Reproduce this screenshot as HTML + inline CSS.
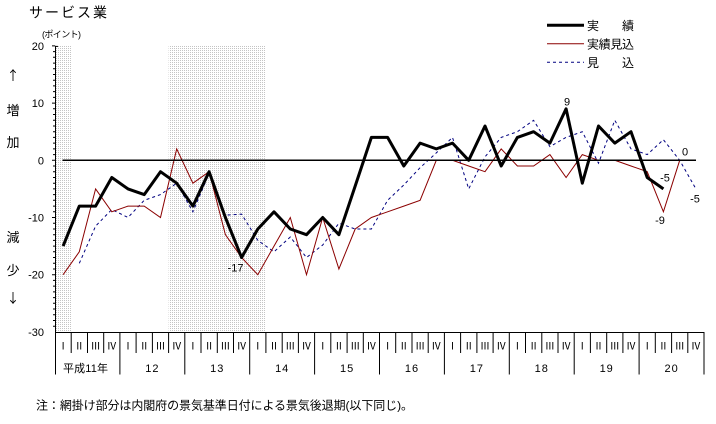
<!DOCTYPE html>
<html><head><meta charset="utf-8"><style>
html,body{margin:0;padding:0;background:#fff;}
svg{display:block;}
text{font-family:"Liberation Sans","Noto Sans CJK JP",sans-serif;fill:#000;}
.rn{font-family:"Noto Serif CJK SC","Liberation Serif",serif;font-size:10px;}
</style></head><body>
<svg width="716" height="424" viewBox="0 0 716 424" xmlns="http://www.w3.org/2000/svg">
<defs>
<pattern id="dots" width="2" height="2" patternUnits="userSpaceOnUse">
<rect width="2" height="2" fill="#fff"/>
<rect x="0" y="0" width="1" height="1" fill="#c4c4c4"/>
</pattern>
</defs>
<rect width="716" height="424" fill="#fff"/>

<!-- title -->
<text x="29" y="17.5" font-size="14" textLength="78">サービス業</text>
<text x="42" y="37.5" font-size="9" textLength="39">(ポイント)</text>

<!-- left side labels -->
<g font-size="13" text-anchor="middle">
<text x="13" y="80" style="font-family:'Noto Sans CJK JP',sans-serif">↑</text>
<text x="13" y="115">増</text>
<text x="13" y="147">加</text>
<text x="13" y="242">減</text>
<text x="13" y="275">少</text>
<text x="13" y="303" style="font-family:'Noto Sans CJK JP',sans-serif">↓</text>
</g>

<!-- shading -->
<rect x="55" y="45.9" width="16.2" height="286" fill="url(#dots)"/>
<rect x="168.6" y="45.9" width="97.3" height="286" fill="url(#dots)"/>

<!-- y axis -->
<g stroke="#000" stroke-width="1">
<line x1="55.5" y1="45.9" x2="55.5" y2="374.5"/>
<line x1="55" y1="46.4" x2="58" y2="46.4"/>
</g>
<g stroke="#000" stroke-width="1">
<path d="M52 45.9H55 M53 51.6H55 M53 57.3H55 M53 63.1H55 M53 68.8H55 M53 74.5H55 M53 80.2H55 M53 85.9H55 M53 91.6H55 M53 97.4H55
M52 103.1H55 M53 108.8H55 M53 114.5H55 M53 120.3H55 M53 126.0H55 M53 131.7H55 M53 137.4H55 M53 143.1H55 M53 148.9H55 M53 154.6H55
M52 160.3H55 M53 166.0H55 M53 171.7H55 M53 177.5H55 M53 183.2H55 M53 188.9H55 M53 194.6H55 M53 200.3H55 M53 206.1H55 M53 211.8H55
M52 217.5H55 M53 223.2H55 M53 229.0H55 M53 234.7H55 M53 240.4H55 M53 246.1H55 M53 251.8H55 M53 257.5H55 M53 263.3H55 M53 269.0H55
M52 274.7H55 M53 280.4H55 M53 286.1H55 M53 291.9H55 M53 297.6H55 M53 303.3H55 M53 309.0H55 M53 314.7H55 M53 320.5H55 M53 326.2H55"/>
</g>
<g font-size="11" text-anchor="end">
<text x="44" y="49.9">20</text>
<text x="44" y="107.1">10</text>
<text x="44" y="164.3">0</text>
<text x="44" y="221.5">-10</text>
<text x="44" y="278.7">-20</text>
<text x="44" y="335.9">-30</text>
</g>

<!-- x axis table -->
<g stroke="#000" stroke-width="1">
<line x1="55" y1="332.5" x2="704.5" y2="332.5"/>
<path d="M71.2 332V353 M87.5 332V353 M103.7 332V353
M136.1 332V353 M152.4 332V353 M168.6 332V353
M201.0 332V353 M217.3 332V353 M233.5 332V353
M265.9 332V353 M282.2 332V353 M298.4 332V353
M330.8 332V353 M347.1 332V353 M363.3 332V353
M395.7 332V353 M412.0 332V353 M428.2 332V353
M460.6 332V353 M476.9 332V353 M493.1 332V353
M525.5 332V353 M541.8 332V353 M558.0 332V353
M590.4 332V353 M606.7 332V353 M622.9 332V353
M655.3 332V353 M671.6 332V353 M687.8 332V353"/>
<path d="M119.9 332V374.5 M184.8 332V374.5 M249.7 332V374.5 M314.6 332V374.5 M379.5 332V374.5 M444.4 332V374.5 M509.3 332V374.5 M574.2 332V374.5 M639.1 332V374.5 M704.0 332V374.5"/>
</g>
<g class="rn" text-anchor="middle">
<text x="63.1" y="349.6">Ⅰ</text><text x="79.3" y="349.6">Ⅱ</text><text x="95.6" y="349.6">Ⅲ</text><text x="111.8" y="349.6">Ⅳ</text>
<text x="128.0" y="349.6">Ⅰ</text><text x="144.2" y="349.6">Ⅱ</text><text x="160.5" y="349.6">Ⅲ</text><text x="176.7" y="349.6">Ⅳ</text>
<text x="192.9" y="349.6">Ⅰ</text><text x="209.1" y="349.6">Ⅱ</text><text x="225.4" y="349.6">Ⅲ</text><text x="241.6" y="349.6">Ⅳ</text>
<text x="257.8" y="349.6">Ⅰ</text><text x="274.0" y="349.6">Ⅱ</text><text x="290.3" y="349.6">Ⅲ</text><text x="306.5" y="349.6">Ⅳ</text>
<text x="322.7" y="349.6">Ⅰ</text><text x="338.9" y="349.6">Ⅱ</text><text x="355.2" y="349.6">Ⅲ</text><text x="371.4" y="349.6">Ⅳ</text>
<text x="387.6" y="349.6">Ⅰ</text><text x="403.8" y="349.6">Ⅱ</text><text x="420.1" y="349.6">Ⅲ</text><text x="436.3" y="349.6">Ⅳ</text>
<text x="452.5" y="349.6">Ⅰ</text><text x="468.7" y="349.6">Ⅱ</text><text x="485.0" y="349.6">Ⅲ</text><text x="501.2" y="349.6">Ⅳ</text>
<text x="517.4" y="349.6">Ⅰ</text><text x="533.6" y="349.6">Ⅱ</text><text x="549.9" y="349.6">Ⅲ</text><text x="566.1" y="349.6">Ⅳ</text>
<text x="582.3" y="349.6">Ⅰ</text><text x="598.5" y="349.6">Ⅱ</text><text x="614.8" y="349.6">Ⅲ</text><text x="631.0" y="349.6">Ⅳ</text>
<text x="647.2" y="349.6">Ⅰ</text><text x="663.4" y="349.6">Ⅱ</text><text x="679.7" y="349.6">Ⅲ</text><text x="695.9" y="349.6">Ⅳ</text>
</g>
<g font-size="11" text-anchor="middle">
<text x="85.5" y="372" textLength="45">平成11年</text>
<text x="152.4" y="372" letter-spacing="1">12</text>
<text x="217.3" y="372" letter-spacing="1">13</text>
<text x="282.2" y="372" letter-spacing="1">14</text>
<text x="347.1" y="372" letter-spacing="1">15</text>
<text x="412.0" y="372" letter-spacing="1">16</text>
<text x="476.9" y="372" letter-spacing="1">17</text>
<text x="541.8" y="372" letter-spacing="1">18</text>
<text x="606.7" y="372" letter-spacing="1">19</text>
<text x="671.6" y="372" letter-spacing="1">20</text>
</g>

<!-- series -->
<polyline fill="none" stroke="#000080" stroke-width="1" stroke-dasharray="3,3" points="79.3,263.3 95.6,226.1 111.8,209.5 128.0,217.5 144.2,200.3 160.5,194.6 176.7,183.2 192.9,211.8 209.1,173.5 225.4,215.2 241.6,214.1 257.8,240.4 274.0,251.8 290.3,237.0 306.5,257.5 322.7,245.0 338.9,223.2 355.2,229.0 371.4,229.0 387.6,200.3 403.8,185.0 420.1,167.7 436.3,152.9 452.5,137.4 468.7,188.9 485.0,156.9 501.2,137.4 517.4,131.7 533.6,120.3 549.9,146.6 566.1,137.4 582.3,131.7 598.5,163.2 614.8,120.3 631.0,148.9 647.2,154.6 663.4,139.7 679.7,160.3 695.9,188.9"/>
<polyline fill="none" stroke="#8b0000" stroke-width="1" points="63.1,274.7 79.3,251.8 95.6,188.9 111.8,211.8 128.0,206.1 144.2,206.1 160.5,217.5 176.7,148.9 192.9,183.2 209.1,171.7 225.4,234.7 241.6,257.5 257.8,274.7 274.0,246.1 290.3,217.5 306.5,274.7 322.7,217.5 338.9,269.0 355.2,229.0 371.4,217.5 387.6,211.8 403.8,206.1 420.1,200.3 436.3,160.3 452.5,160.3 468.7,166.0 485.0,171.7 501.2,148.9 517.4,166.0 533.6,166.0 549.9,154.6 566.1,177.5 582.3,154.6 598.5,160.3 614.8,160.3 631.0,166.0 647.2,171.7 663.4,211.8 679.7,160.3"/>
<line x1="62.5" y1="160.3" x2="696" y2="160.3" stroke="#000" stroke-width="1.5"/>
<polyline fill="none" stroke="#000" stroke-width="3" stroke-linejoin="round" points="63.1,246.1 79.3,206.1 95.6,206.1 111.8,177.5 128.0,188.9 144.2,194.6 160.5,171.7 176.7,183.2 192.9,206.1 209.1,171.7 225.4,217.5 241.6,257.5 257.8,229.0 274.0,211.8 290.3,229.0 306.5,234.7 322.7,217.5 338.9,234.7 355.2,186.0 371.4,137.4 387.6,137.4 403.8,166.0 420.1,143.1 436.3,148.9 452.5,143.1 468.7,160.3 485.0,126.0 501.2,166.0 517.4,137.4 533.6,131.7 549.9,143.1 566.1,108.8 582.3,183.2 598.5,126.0 614.8,143.1 631.0,131.7 647.2,177.5 663.4,188.9"/>

<!-- data labels -->
<g font-size="11" text-anchor="middle">
<text x="235.5" y="271.7">-17</text>
<text x="567" y="105.7">9</text>
<text x="665" y="181.7">-5</text>
<text x="660" y="224">-9</text>
<text x="685" y="155.7">0</text>
<text x="695" y="202.3">-5</text>
</g>

<!-- legend -->
<line x1="547" y1="25.3" x2="584" y2="25.3" stroke="#000" stroke-width="3"/>
<line x1="547" y1="43.7" x2="584" y2="43.7" stroke="#8b0000" stroke-width="1"/>
<line x1="547" y1="62.3" x2="584" y2="62.3" stroke="#000080" stroke-width="1" stroke-dasharray="3,3"/>
<g font-size="12">
<text x="587" y="30" textLength="47">実　　績</text>
<text x="587" y="48.4" textLength="47">実績見込</text>
<text x="587" y="67" textLength="47">見　　込</text>
</g>

<!-- footnote -->
<text x="36" y="409.6" font-size="12" textLength="377">注：網掛け部分は内閣府の景気基準日付による景気後退期(以下同じ)。</text>
</svg>
</body></html>
